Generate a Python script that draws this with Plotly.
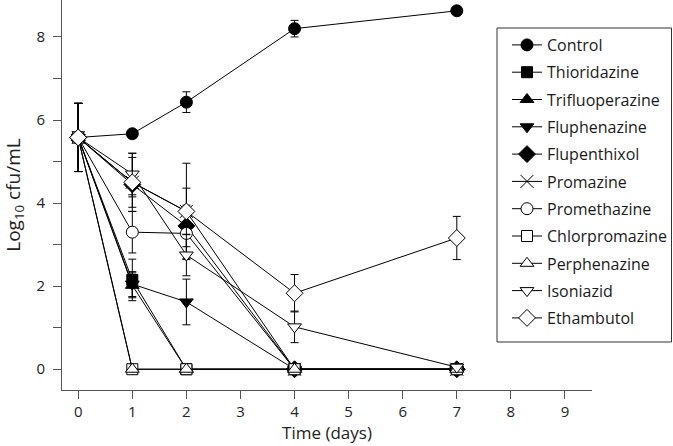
import plotly.graph_objects as go

days = [0, 1, 2, 4, 7]

names = ["Control", "Thioridazine", "Trifluoperazine", "Fluphenazine", "Flupenthixol",
         "Promazine", "Promethazine", "Chlorpromazine", "Perphenazine", "Isoniazid", "Ethambutol"]

control = [5.58, 5.67, 6.43, 8.2, 8.63]
thioridazine = [5.58, 2.15, 0, 0, 0]
trifluoperazine = [5.58, 2.02, 0, 0, 0]
fluphenazine = [5.58, 2.05, 1.62, 0, 0]
flupenthixol = [5.58, 4.45, 3.45, 0, 0]
promazine = [5.58, 4.5, 3.8, 0, 0]
promethazine = [5.58, 3.3, 3.27, 0, 0]
chlorpromazine = [5.58, 0, 0, 0, 0]
perphenazine = [5.58, 0, 0, 0, 0]
isoniazid = [5.58, 4.7, 2.75, 1.02, 0.05]
ethambutol = [5.58, 4.5, 3.8, 1.83, 3.16]

control_err = [0.82, 0.1, 0.25, 0.2, 0.08]
thioridazine_err = [0.82, 0.5, 0, 0, 0]
trifluoperazine_err = [0.82, 0.3, 0, 0, 0]
fluphenazine_err = [0.82, 0.3, 0.55, 0, 0]
flupenthixol_err = [0.82, 0.3, 0.5, 0, 0]
promazine_err = [0.82, 0.7, 1.16, 0, 0]
promethazine_err = [0.82, 0.5, 0.6, 0, 0]
chlorpromazine_err = [0.82, 0, 0, 0, 0]
perphenazine_err = [0.82, 0, 0, 0, 0]
isoniazid_err = [0.82, 0.5, 0.5, 0.38, 0]
ethambutol_err = [0.82, 0.6, 0.56, 0.45, 0.52]

series = [control, thioridazine, trifluoperazine, fluphenazine, flupenthixol,
          promazine, promethazine, chlorpromazine, perphenazine, isoniazid, ethambutol]
errors = [control_err, thioridazine_err, trifluoperazine_err, fluphenazine_err, flupenthixol_err,
          promazine_err, promethazine_err, chlorpromazine_err, perphenazine_err, isoniazid_err, ethambutol_err]

symbols = ["circle", "square", "triangle-up", "triangle-down", "diamond",
           "x-thin", "circle", "square", "triangle-up", "triangle-down", "diamond"]
fills = ["black", "black", "black", "black", "black",
         "black", "white", "white", "white", "white", "white"]
sizes = [12, 11, 12, 12, 13, 13, 12, 11, 12, 12, 13]

W, H = 673, 446
ML, MR, MT, MB = 62, 81, 0, 56
PW, PH = W - ML - MR, H - MT - MB

font = "Open Sans, Lato, DejaVu Sans, sans-serif"

fig = go.Figure()
legend_layouts = {}
for i, (name, ys, es, sym, fc, sz) in enumerate(zip(names, series, errors, symbols, fills, sizes)):
    key = "legend" if i == 0 else f"legend{i + 1}"
    fig.add_trace(go.Scatter(
        x=days, y=ys, name=name, mode="lines+markers", legend=key,
        line=dict(color="black", width=1),
        marker=dict(symbol=sym, size=sz, color=fc, line=dict(color="black", width=1)),
        error_y=dict(type="data", array=es, visible=True, color="black", thickness=1, width=4),
    ))
    row_y = 45 + i * 27.3
    legend_layouts[key] = dict(
        x=(507 - ML) / PW, y=1 - (row_y - MT) / PH, xanchor="left", yanchor="middle",
        bgcolor="rgba(0,0,0,0)", borderwidth=0,
        font=dict(family=font, size=16, color="#1a1a1a"),
    )

fig.update_layout(
    width=W, height=H,
    margin=dict(l=ML, r=MR, t=MT, b=MB, autoexpand=False),
    paper_bgcolor="white", plot_bgcolor="white",
    font=dict(family=font, size=15, color="#222"),
    showlegend=True,
    **legend_layouts,
    shapes=[dict(type="rect", xref="paper", yref="paper",
                 x0=(497 - ML) / PW, x1=(671.5 - ML) / PW,
                 y0=1 - (342 - MT) / PH, y1=1 - (28 - MT) / PH,
                 line=dict(color="#333", width=1), fillcolor="white", layer="above")],
    xaxis=dict(range=[-0.3, 9.5], tickvals=list(range(10)), showline=True, linecolor="#555",
               linewidth=1, ticks="outside", ticklen=8, tickcolor="#555", showgrid=False,
               zeroline=False, automargin=False,
               title=dict(text="Time (days)", standoff=6,
                          font=dict(family=font, size=17, color="#222"))),
    yaxis=dict(range=[-0.5, 8.89], tickvals=[0, 2, 4, 6, 8], showline=True, linecolor="#555",
               linewidth=1, ticks="outside", ticklen=8, tickcolor="#555", showgrid=False,
               zeroline=False, automargin=False, ticklabelstandoff=5,
               title=dict(text="Log<sub>10</sub> cfu/mL", standoff=14,
                          font=dict(family=font, size=19, color="#222")),
               minor=dict(tickvals=[1, 3, 5, 7], ticks="outside", ticklen=8, tickcolor="#555")),
)

fig.write_html("out.html", config={"displayModeBar": False},
               post_script="document.body.style.margin='0';")
